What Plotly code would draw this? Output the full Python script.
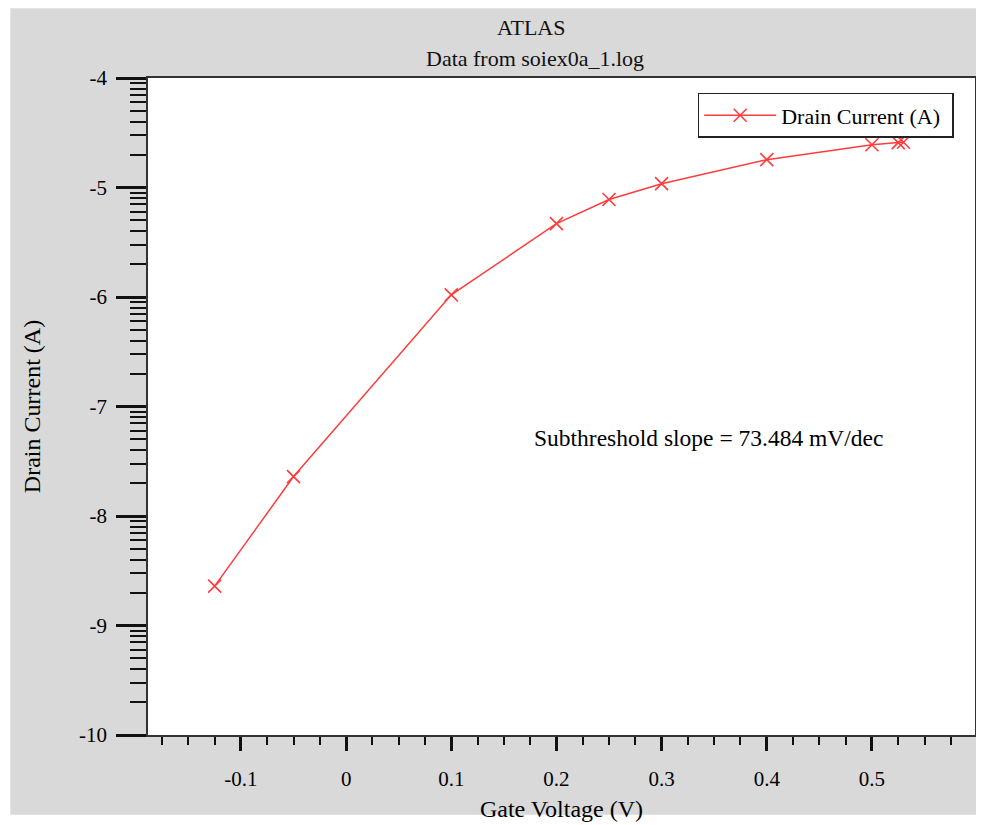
import numpy as np
import plotly.graph_objects as go

# ---- data ----
gate_voltage = [-0.125, -0.05, 0.1, 0.2, 0.25, 0.3, 0.4, 0.5, 0.525, 0.53]
log_drain_current = [-8.64, -7.64, -5.98, -5.33, -5.11, -4.965, -4.746, -4.61, -4.59, -4.587]
series_name = "Drain Current (A)"

x_tickvals = [-0.1, 0.0, 0.1, 0.2, 0.3, 0.4, 0.5]
x_ticktext = ["-0.1", "0", "0.1", "0.2", "0.3", "0.4", "0.5"]
y_tickvals = [-10, -9, -8, -7, -6, -5, -4]
y_ticktext = ["-10", "-9", "-8", "-7", "-6", "-5", "-4"]

title_line1 = "ATLAS"
title_line2 = "Data from soiex0a_1.log"
x_title = "Gate Voltage (V)"
y_title = "Drain Current (A)"
note_text = "Subthreshold slope = 73.484 mV/dec"

# minor ticks on y follow log10 spacing inside each decade
y_minor = [d + np.log10(k) for d in range(-10, -4) for k in range(2, 10)]

FONT = "Liberation Serif, Times New Roman, serif"
RED = "#ff3b3b"

fig = go.Figure()
fig.add_trace(go.Scatter(
    x=gate_voltage, y=log_drain_current, name=series_name,
    mode="lines+markers",
    line=dict(color=RED, width=1.5),
    marker=dict(symbol="x-thin", size=13, line=dict(color=RED, width=1.6)),
))

# the page body adds an 8px offset; design in page pixels
OFF = 8
W, H = 976, 817
L, R, T, B = 140, 7, 70, 87
pw, ph = W - L - R, H - T - B


def px(xp):
    return (xp - OFF - L) / pw


def py(yp):
    return (H - B - (yp - OFF)) / ph


fig.update_layout(
    width=W, height=H,
    margin=dict(l=L, r=R, t=T, b=B, pad=0),
    paper_bgcolor="white", plot_bgcolor="white",
    font=dict(family=FONT, size=21, color="black"),
    showlegend=True,
    legend=dict(
        x=px(699), y=py(93), xanchor="left", yanchor="top",
        orientation="h", entrywidth=166,
        bgcolor="white", bordercolor="#222", borderwidth=1.5,
        font=dict(family=FONT, size=22, color="black"),
        itemwidth=72,
    ),
    shapes=[
        dict(type="rect", xref="paper", yref="paper",
             x0=px(10), x1=px(980), y0=py(818), y1=py(8),
             fillcolor="#d9d9d9", line=dict(width=0), layer="below"),
        dict(type="rect", xref="paper", yref="paper",
             x0=0, x1=1, y0=0, y1=1,
             fillcolor="white", line=dict(width=0), layer="below"),
    ],
    annotations=[
        dict(text=title_line1, xref="paper", yref="paper", x=px(532), y=py(27),
             xanchor="center", yanchor="middle", showarrow=False,
             font=dict(family=FONT, size=22, color="#111")),
        dict(text=title_line2, xref="paper", yref="paper", x=px(536), y=py(58),
             xanchor="center", yanchor="middle", showarrow=False,
             font=dict(family=FONT, size=22, color="#111")),
        dict(text=note_text, xref="x", yref="y", x=0.3444, y=-7.285,
             xanchor="center", yanchor="middle", showarrow=False,
             font=dict(family=FONT, size=23.5, color="black")),
    ],
)

fig.update_xaxes(
    range=[-0.1884, 0.598],
    tickmode="array", tickvals=x_tickvals, ticktext=x_ticktext,
    ticks="outside", ticklen=14, tickwidth=2.5, tickcolor="#111",
    ticklabelstandoff=10,
    showline=True, linecolor="#333", linewidth=1.5, mirror=True,
    showgrid=False, zeroline=False,
    minor=dict(ticks="outside", dtick=0.025, tick0=0, ticklen=8,
               tickwidth=1.5, tickcolor="#111", showgrid=False),
    title=dict(text=x_title, font=dict(family=FONT, size=24), standoff=10),
)
fig.update_yaxes(
    range=[-10, -4],
    tickmode="array", tickvals=y_tickvals, ticktext=y_ticktext,
    ticks="outside", ticklen=30, tickwidth=2.5, tickcolor="#111",
    ticklabelstandoff=5,
    showline=True, linecolor="#333", linewidth=1.5, mirror=True,
    showgrid=False, zeroline=False,
    minor=dict(ticks="outside", tickmode="array", tickvals=y_minor, ticklen=16,
               tickwidth=1.5, tickcolor="#111", showgrid=False),
    title=dict(text=y_title, font=dict(family=FONT, size=24), standoff=32),
)

fig.write_html("out.html")
